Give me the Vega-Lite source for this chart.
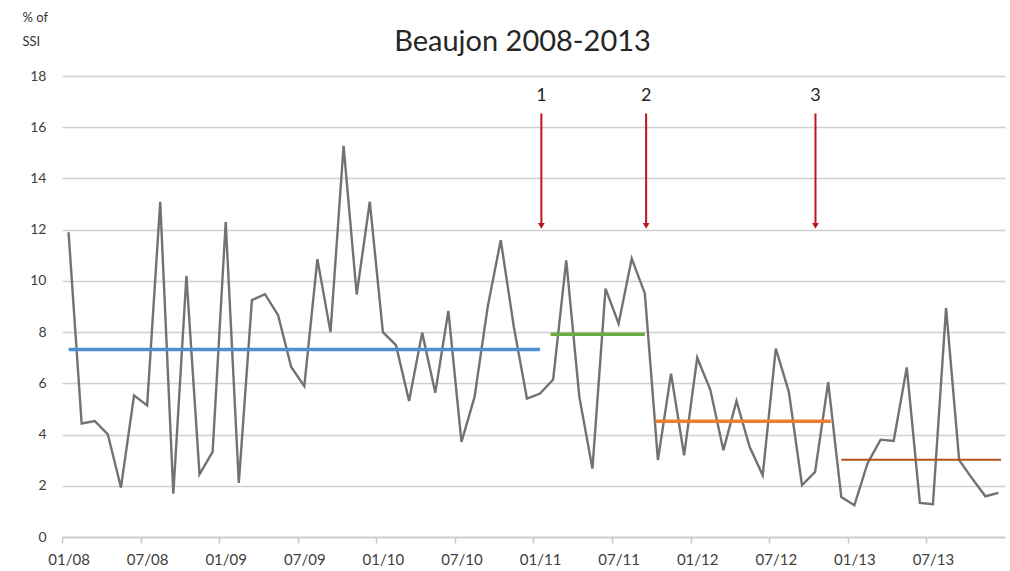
{
  "$schema": "https://vega.github.io/schema/vega-lite/v6.json",
  "width": 943,
  "height": 461,
  "autosize": {"type": "none"},
  "padding": {"left": 62, "top": 76, "right": 5, "bottom": 34},
  "background": "white",
  "title": {"text": "Beaujon 2008-2013", "frame": "group", "font": "Lato", "fontSize": 29, "fontWeight": "normal", "color": "#262626", "dx": -11, "dy": 68, "offset": 22},
  "config": {"view": {"stroke": null}},
  "datasets": {
    "series": [
      {"m": 0, "ssi": 11.9}, {"m": 1, "ssi": 4.43}, {"m": 2, "ssi": 4.53}, {"m": 3, "ssi": 4.01},
      {"m": 4, "ssi": 1.93}, {"m": 5, "ssi": 5.53}, {"m": 6, "ssi": 5.14}, {"m": 7, "ssi": 13.09},
      {"m": 8, "ssi": 1.69}, {"m": 9, "ssi": 10.2}, {"m": 10, "ssi": 2.45}, {"m": 11, "ssi": 3.32},
      {"m": 12, "ssi": 12.3}, {"m": 13, "ssi": 2.11}, {"m": 14, "ssi": 9.25}, {"m": 15, "ssi": 9.48},
      {"m": 16, "ssi": 8.66}, {"m": 17, "ssi": 6.64}, {"m": 18, "ssi": 5.89}, {"m": 19, "ssi": 10.85},
      {"m": 20, "ssi": 8.0}, {"m": 21, "ssi": 15.27}, {"m": 22, "ssi": 9.47}, {"m": 23, "ssi": 13.09},
      {"m": 24, "ssi": 8.0}, {"m": 25, "ssi": 7.49}, {"m": 26, "ssi": 5.31}, {"m": 27, "ssi": 7.98},
      {"m": 28, "ssi": 5.63}, {"m": 29, "ssi": 8.83}, {"m": 30, "ssi": 3.71}, {"m": 31, "ssi": 5.47},
      {"m": 32, "ssi": 8.98}, {"m": 33, "ssi": 11.59}, {"m": 34, "ssi": 8.2}, {"m": 35, "ssi": 5.4},
      {"m": 36, "ssi": 5.6}, {"m": 37, "ssi": 6.15}, {"m": 38, "ssi": 10.8}, {"m": 39, "ssi": 5.47},
      {"m": 40, "ssi": 2.67}, {"m": 41, "ssi": 9.7}, {"m": 42, "ssi": 8.33}, {"m": 43, "ssi": 10.87},
      {"m": 44, "ssi": 9.51}, {"m": 45, "ssi": 3.0}, {"m": 46, "ssi": 6.38}, {"m": 47, "ssi": 3.19},
      {"m": 48, "ssi": 7.0}, {"m": 49, "ssi": 5.75}, {"m": 50, "ssi": 3.39}, {"m": 51, "ssi": 5.31},
      {"m": 52, "ssi": 3.52}, {"m": 53, "ssi": 2.41}, {"m": 54, "ssi": 7.36}, {"m": 55, "ssi": 5.66},
      {"m": 56, "ssi": 2.02}, {"m": 57, "ssi": 2.54}, {"m": 58, "ssi": 6.05}, {"m": 59, "ssi": 1.56},
      {"m": 60, "ssi": 1.24}, {"m": 61, "ssi": 2.87}, {"m": 62, "ssi": 3.8}, {"m": 63, "ssi": 3.75},
      {"m": 64, "ssi": 6.62}, {"m": 65, "ssi": 1.33}, {"m": 66, "ssi": 1.28}, {"m": 67, "ssi": 8.95},
      {"m": 68, "ssi": 3.0}, {"m": 69, "ssi": 2.28}, {"m": 70, "ssi": 1.59}, {"m": 71, "ssi": 1.72}
    ],
    "means": [
      {"period": "baseline", "start": 0, "end": 36, "mean": 7.32},
      {"period": "after1", "start": 36.8, "end": 44, "mean": 7.92},
      {"period": "after2", "start": 44.8, "end": 58.2, "mean": 4.52},
      {"period": "after3", "start": 59, "end": 71.2, "mean": 3.02}
    ],
    "events": [
      {"label": "1", "m": 36.1, "top": 16.54, "tip": 12.25, "head": 12.15, "labelY": 17.2},
      {"label": "2", "m": 44.1, "top": 16.54, "tip": 12.25, "head": 12.15, "labelY": 17.2},
      {"label": "3", "m": 57.03, "top": 16.54, "tip": 12.25, "head": 12.15, "labelY": 17.2}
    ]
  },
  "layer": [
    {
      "data": {"name": "series"},
      "mark": {"type": "line", "color": "#727272", "strokeWidth": 2.4},
      "encoding": {
        "x": {
          "field": "m", "type": "quantitative",
          "scale": {"domain": [-0.5, 71.5], "nice": false, "zero": false},
          "axis": {
            "title": null, "grid": false,
            "values": [0, 6, 12, 18, 24, 30, 36, 42, 48, 54, 60, 66, 72],
            "labelExpr": "datum.value >= 72 ? '' : ((datum.value % 12 == 0 ? '01/' : '07/') + slice('' + (2008 + floor(datum.value / 12)), 2))",
            "tickOffset": -6.55, "labelOffset": 6.55,
            "tickSize": 6, "tickColor": "#c8c8c8", "tickWidth": 1.5,
            "domainColor": "#c8c8c8", "domainWidth": 1.5,
            "labelFont": "Lato", "labelFontSize": 15, "labelColor": "#404040",
            "labelPadding": 9, "labelFlush": false, "labelOverlap": false
          }
        },
        "y": {
          "field": "ssi", "type": "quantitative",
          "scale": {"domain": [0, 18], "nice": false},
          "axis": {
            "values": [0, 2, 4, 6, 8, 10, 12, 14, 16, 18],
            "grid": true, "gridColor": "#d0d0d0", "gridWidth": 1.6,
            "domain": false, "ticks": false,
            "labelFont": "Lato", "labelFontSize": 14, "labelColor": "#404040", "labelPadding": 16,
            "title": ["% of", "SSI"], "titleAngle": 0, "titleAlign": "left", "titleBaseline": "top",
            "titleX": -40, "titleY": -65, "titleFont": "Lato", "titleFontSize": 13,
            "titleFontWeight": "normal", "titleColor": "#333333", "titleLineHeight": 24
          }
        }
      }
    },
    {
      "data": {"name": "means"},
      "mark": {"type": "rule"},
      "encoding": {
        "x": {"field": "start", "type": "quantitative"},
        "x2": {"field": "end"},
        "y": {"field": "mean", "type": "quantitative"},
        "color": {
          "field": "period", "type": "nominal", "legend": null,
          "scale": {"domain": ["baseline", "after1", "after2", "after3"], "range": ["#4f90d4", "#6aad46", "#ed7d31", "#b5521c"]}
        },
        "strokeWidth": {"condition": {"test": "datum.period == 'after3'", "value": 2}, "value": 3.5}
      }
    },
    {
      "data": {"name": "events"},
      "mark": {"type": "rule", "color": "#c0141c", "strokeWidth": 2},
      "encoding": {
        "x": {"field": "m", "type": "quantitative"},
        "y": {"field": "top", "type": "quantitative"},
        "y2": {"field": "tip"}
      }
    },
    {
      "data": {"name": "events"},
      "mark": {"type": "point", "shape": "triangle-down", "filled": true, "color": "#c0141c", "size": 45, "opacity": 1},
      "encoding": {
        "x": {"field": "m", "type": "quantitative"},
        "y": {"field": "head", "type": "quantitative"}
      }
    },
    {
      "data": {"name": "events"},
      "mark": {"type": "text", "font": "Lato", "fontSize": 18, "color": "#262626", "baseline": "middle", "align": "center"},
      "encoding": {
        "x": {"field": "m", "type": "quantitative"},
        "y": {"field": "labelY", "type": "quantitative"},
        "text": {"field": "label"}
      }
    }
  ]
}
